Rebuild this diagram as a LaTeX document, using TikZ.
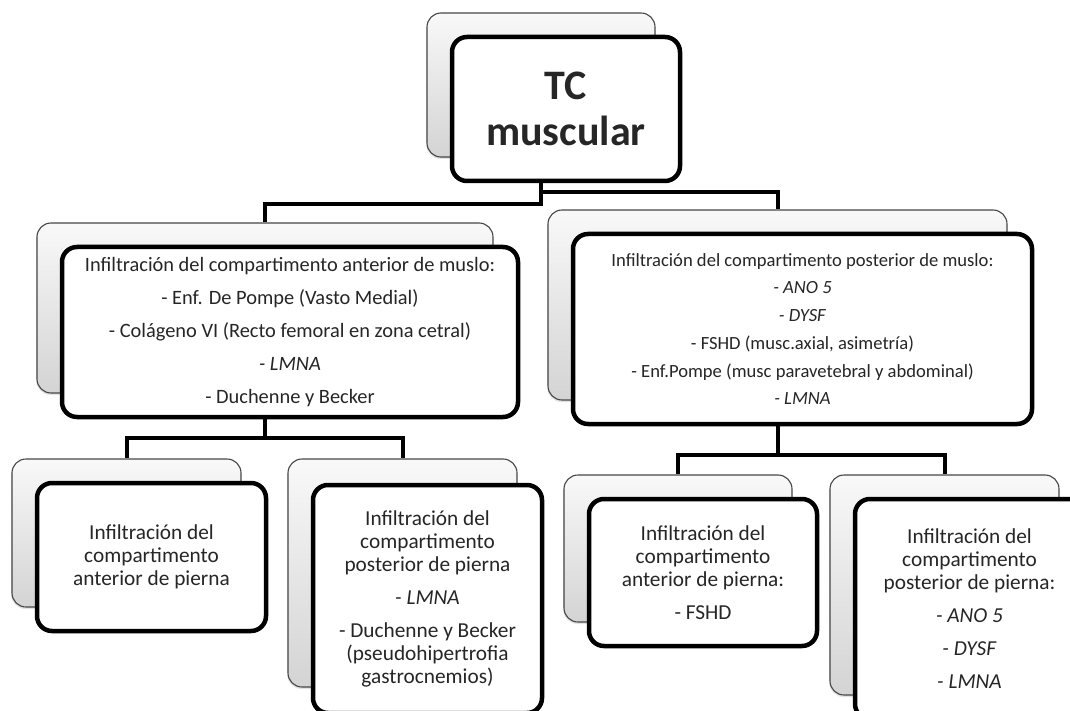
\documentclass[tikz,border=0pt]{standalone}
\usepackage{fontspec}
\setmainfont{Carlito}
\usetikzlibrary{shadows}
\pgfdeclarelayer{wires}
\pgfsetlayers{wires,main}
\begin{document}
\begin{tikzpicture}[x=1pt,y=-1pt,
  backbox/.style={draw=gray!55!black, line width=1.1pt, rounded corners=14pt,
    top color=gray!5, bottom color=gray!34, inner sep=0pt,
    drop shadow={shadow xshift=-0.6pt, shadow yshift=-2pt, opacity=0.22}},
  frontbox/.style={draw=black, line width=4.5pt, fill=white, rounded corners=15pt,
    align=center, inner sep=0pt, text=black!85},
  midfont/.style={font=\fontsize{20.4}{33}\selectfont},
  rightfont/.style={font=\fontsize{18.6}{27.7}\selectfont},
  lowfont/.style={font=\fontsize{21.3}{23}\selectfont},
  wire/.style={draw=black, line width=4pt}]
\clip (0,0) rectangle (1070,711);

% root
\node[backbox, minimum width=228pt, minimum height=144pt] (tcB) at (541,85) {};
\node[frontbox, minimum width=228pt, minimum height=144pt,
      font=\fontsize{42}{46}\selectfont\bfseries] (tc) at (566,109) {TC\\muscular};

% thigh level
\node[backbox, minimum width=456pt, minimum height=170pt] (mlB) at (265,308) {};
\node[frontbox, midfont, minimum width=456pt, minimum height=170pt] (ml) at (290,332)
  {Infiltración del compartimento anterior de muslo:\\
   - Enf. De Pompe (Vasto Medial)\\
   - Colágeno VI (Recto femoral en zona cetral)\\
   \textit{- LMNA}\\
   - Duchenne y Becker};

\node[backbox, minimum width=459pt, minimum height=190pt] (mrB) at (777.5,305) {};
\node[frontbox, rightfont, minimum width=459pt, minimum height=190pt] (mr) at (802.5,329)
  {Infiltración del compartimento posterior de muslo:\\
   \textit{- ANO 5}\\
   \textit{- DYSF}\\
   - FSHD (musc.axial, asimetría)\\
   - Enf.Pompe (musc paravetebral y abdominal)\\
   \textit{- LMNA}};

% leg level, left branch
\node[backbox, minimum width=229pt, minimum height=148pt] (bl1B) at (126.5,533) {};
\node[frontbox, lowfont, minimum width=229pt, minimum height=148pt] (bl1) at (151.5,557)
  {Infiltración del\\compartimento\\anterior de pierna};

\node[backbox, minimum width=229pt, minimum height=228pt] (bl2B) at (402.5,573) {};
\node[frontbox, lowfont, minimum width=229pt, minimum height=228pt] (bl2) at (427.5,599)
  {Infiltración del\\compartimento\\posterior de pierna\\[10pt]
   \textit{- LMNA}\\[10pt]
   - Duchenne y Becker\\(pseudohipertrofia\\gastrocnemios)};

% leg level, right branch
\node[backbox, minimum width=228pt, minimum height=147pt] (br1B) at (678,548.5) {};
\node[frontbox, lowfont, minimum width=228pt, minimum height=147pt] (br1) at (703,572.5)
  {Infiltración del\\compartimento\\anterior de pierna:\\[10pt]- FSHD};

\node[backbox, minimum width=229pt, minimum height=220pt] (br2B) at (944.5,585) {};
\node[frontbox, lowfont, minimum width=229pt, minimum height=220pt] (br2) at (969.5,609)
  {Infiltración del\\compartimento\\posterior de pierna:\\[10pt]
   \textit{- ANO 5}\\[10pt]\textit{- DYSF}\\[10pt]\textit{- LMNA}};

% elbow connectors behind the boxes
\begin{pgfonlayer}{wires}
  \coordinate (kL) at (0,204);
  \coordinate (kR) at (0,192);
  \coordinate (kBL) at (0,438);
  \coordinate (kBR) at (0,455);
  \draw[wire] (tcB.south) -- (tcB.south |- kL) -| (mlB.north);
  \draw[wire] (tcB.south) -- (tcB.south |- kR) -| (mrB.north);
  \draw[wire] (mlB.south) -- (mlB.south |- kBL) -| (bl1B.north);
  \draw[wire] (mlB.south) -- (mlB.south |- kBL) -| (bl2B.north);
  \draw[wire] (mrB.south) -- (mrB.south |- kBR) -| (br1B.north);
  \draw[wire] (mrB.south) -- (mrB.south |- kBR) -| (br2B.north);
\end{pgfonlayer}
\end{tikzpicture}
\end{document}
